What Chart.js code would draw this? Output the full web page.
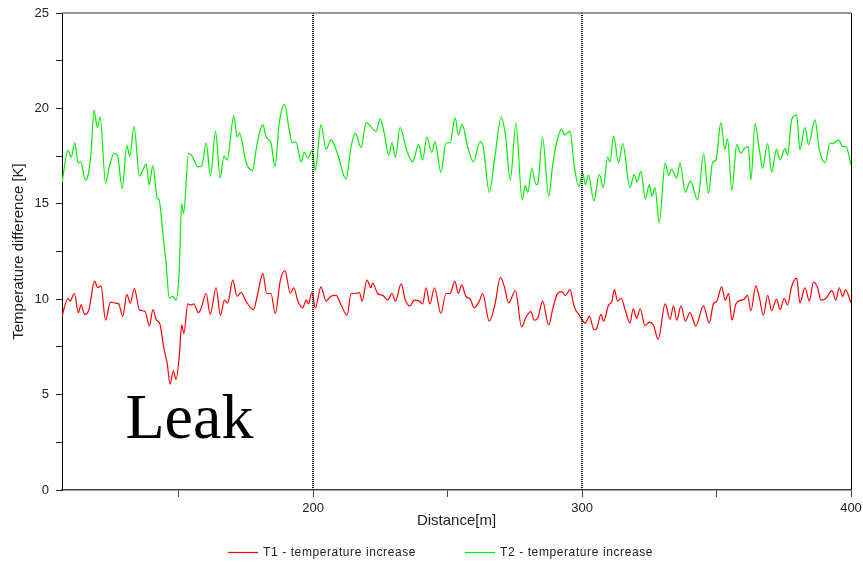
<!DOCTYPE html>
<html>
<head>
<meta charset="utf-8">
<script src="https://cdn.jsdelivr.net/npm/chart.js@4.4.1/dist/chart.umd.min.js"></script>
<style>
  html, body { margin: 0; padding: 0; background: #fff; }
  canvas { display: block; }
</style>
</head>
<body>
<canvas id="tempChart" width="863" height="562"></canvas>
<script>
// axis setup
const xMin = 106.6;
const xMax = 400;
const xTicks = [150, 200, 250, 300, 350, 400];
const xTickLabels = [200, 300, 400];
const yTicks = [0, 2.5, 5, 7.5, 10, 12.5, 15, 17.5, 20, 22.5, 25];
const yTickLabels = [0, 5, 10, 15, 20, 25];
const markerLines = [200, 300];

// annotation
const leakLabel = 'Leak';
const leakX = 154;
const leakY = 2.75;

// T1 - temperature increase (red)
const t1Distance = [106.6, 108.8, 109.6, 111.2, 112.7, 113.7, 115.0, 116.6, 118.7, 119.9, 121.1, 122.8, 124.6, 126.1, 127.7, 129.2, 130.7, 132.0, 133.5, 135.4, 137.5, 139.1, 140.4, 141.6, 143.1, 144.4, 145.7, 146.8, 148.0, 149.0, 150.3, 151.1, 151.9, 153.4, 154.6, 155.6, 157.3, 158.3, 160.2, 161.7, 163.9, 165.5, 167.0, 168.2, 170.1, 171.7, 173.2, 175.0, 177.8, 179.4, 181.3, 182.7, 184.3, 185.9, 187.8, 189.5, 191.5, 192.8, 194.3, 196.1, 197.4, 198.3, 199.5, 200.8, 202.9, 204.8, 206.6, 208.5, 210.4, 212.6, 214.1, 215.7, 217.2, 218.2, 220.0, 221.5, 222.1, 224.0, 225.9, 227.7, 229.3, 230.6, 232.7, 234.3, 236.0, 237.6, 239.5, 240.7, 242.0, 243.4, 245.1, 247.5, 249.4, 250.9, 252.7, 254.0, 255.2, 256.8, 258.4, 259.9, 261.8, 263.0, 265.5, 267.7, 269.6, 271.1, 272.7, 275.2, 277.5, 279.1, 281.0, 282.2, 283.5, 285.3, 287.6, 289.1, 290.9, 292.5, 293.8, 295.5, 297.1, 299.0, 301.2, 302.7, 304.5, 305.4, 307.0, 308.0, 309.9, 311.0, 312.0, 313.2, 314.5, 316.1, 317.8, 319.0, 320.3, 321.6, 323.4, 325.0, 326.5, 328.3, 330.9, 332.7, 334.0, 335.2, 336.8, 338.4, 340.1, 342.3, 345.1, 347.3, 348.8, 350.1, 351.9, 353.2, 354.5, 355.7, 357.2, 359.1, 360.3, 361.5, 362.8, 364.6, 366.1, 367.4, 369.0, 370.5, 372.3, 373.6, 375.2, 376.4, 377.9, 379.8, 381.0, 382.9, 384.5, 386.0, 387.6, 388.8, 390.7, 392.9, 394.4, 395.6, 396.9, 397.9, 400.0];
const t1Values = [9.1, 10.05, 9.9, 10.3, 9.3, 9.7, 9.2, 9.45, 10.95, 10.6, 10.7, 8.9, 9.85, 9.8, 9.75, 9.1, 10.25, 9.8, 10.55, 9.45, 9.35, 8.6, 9.45, 8.95, 8.65, 7.5, 6.65, 5.55, 6.25, 5.8, 7.15, 8.65, 8.2, 9.75, 9.7, 9.75, 9.3, 9.5, 10.3, 9.2, 10.6, 9.15, 9.95, 9.8, 11.0, 10.15, 10.35, 9.9, 9.45, 10.3, 11.35, 10.3, 10.3, 9.25, 11.0, 11.5, 10.3, 10.6, 9.9, 9.55, 9.95, 9.75, 10.35, 9.55, 10.65, 9.9, 10.15, 10.2, 9.7, 9.15, 10.3, 10.3, 10.35, 9.9, 11.0, 10.6, 10.85, 10.3, 10.2, 9.95, 10.3, 9.9, 10.8, 9.95, 9.65, 9.95, 9.9, 9.75, 10.6, 9.75, 10.6, 9.25, 10.3, 10.3, 10.95, 10.3, 10.75, 10.15, 10.0, 9.55, 9.9, 10.3, 8.85, 9.8, 11.15, 10.65, 9.8, 10.45, 8.55, 9.05, 9.35, 8.9, 9.0, 9.9, 8.65, 9.5, 10.3, 10.4, 10.2, 10.5, 9.6, 9.15, 8.75, 9.1, 8.4, 8.45, 9.2, 8.85, 9.7, 9.85, 10.5, 9.9, 10.05, 9.4, 8.75, 9.5, 9.0, 9.5, 8.6, 8.8, 8.65, 7.9, 9.75, 8.95, 9.65, 8.9, 9.65, 8.85, 9.3, 8.6, 9.65, 8.75, 9.75, 9.9, 10.65, 9.95, 10.3, 8.9, 9.75, 9.95, 10.0, 10.2, 9.4, 10.7, 9.95, 9.15, 10.2, 9.4, 10.0, 9.45, 10.05, 9.7, 10.65, 11.1, 9.8, 10.6, 9.9, 10.9, 10.6, 9.95, 10.05, 10.45, 9.95, 10.6, 10.15, 10.5, 9.8];

// T2 - temperature increase (green)
const t2Distance = [106.6, 108.8, 110.0, 111.4, 112.6, 113.5, 115.3, 116.2, 117.4, 118.5, 119.8, 120.8, 122.8, 124.2, 126.0, 127.3, 129.0, 130.7, 131.8, 133.4, 135.4, 136.6, 137.9, 139.0, 140.4, 142.0, 142.6, 144.1, 145.3, 146.5, 147.8, 149.0, 150.2, 151.1, 151.8, 153.7, 155.0, 157.1, 158.6, 160.2, 161.8, 163.7, 165.4, 166.8, 168.0, 170.5, 171.7, 172.6, 175.1, 177.5, 178.8, 180.0, 181.3, 182.5, 184.3, 185.8, 187.4, 189.4, 190.9, 192.2, 193.6, 195.5, 196.7, 198.0, 199.6, 200.8, 202.9, 204.8, 206.7, 209.1, 212.2, 214.1, 215.7, 217.8, 219.7, 223.4, 224.9, 226.5, 228.1, 229.3, 230.6, 232.3, 234.8, 237.0, 239.2, 240.7, 242.3, 244.1, 245.3, 247.5, 249.4, 250.9, 252.8, 254.0, 255.4, 257.5, 259.6, 262.0, 263.0, 265.5, 267.6, 269.9, 271.5, 273.3, 275.4, 277.7, 278.9, 279.8, 281.3, 282.9, 283.5, 285.3, 287.6, 289.0, 290.5, 292.4, 293.5, 295.5, 297.1, 298.8, 300.2, 301.2, 302.4, 304.4, 306.4, 307.9, 309.5, 310.4, 311.7, 313.6, 315.1, 317.8, 319.4, 320.4, 321.9, 323.5, 325.0, 326.0, 327.1, 328.7, 330.9, 332.2, 333.3, 335.2, 336.4, 338.4, 340.2, 343.0, 345.2, 347.0, 348.5, 349.8, 351.6, 353.1, 354.1, 355.7, 357.5, 359.1, 360.3, 361.8, 362.8, 364.3, 365.9, 367.1, 369.0, 370.5, 372.3, 373.6, 375.5, 376.4, 378.0, 379.8, 381.0, 382.9, 384.2, 386.6, 388.2, 390.4, 392.2, 393.2, 395.4, 396.9, 398.1, 400.0];
const t2Values = [16.1, 17.8, 17.45, 18.2, 17.15, 17.2, 16.25, 16.45, 17.65, 19.9, 19.0, 19.55, 16.1, 16.95, 17.65, 17.5, 15.8, 18.05, 17.5, 19.05, 16.45, 16.75, 17.1, 16.0, 17.0, 15.3, 15.25, 13.5, 11.9, 10.05, 10.15, 9.95, 11.5, 15.0, 14.5, 17.65, 17.5, 16.95, 17.0, 18.2, 16.45, 18.8, 16.35, 17.5, 17.3, 19.6, 18.5, 18.7, 17.15, 16.75, 17.85, 18.7, 19.15, 18.5, 18.2, 16.95, 19.25, 20.2, 19.05, 18.2, 18.25, 17.2, 17.7, 17.4, 17.8, 16.75, 19.15, 17.85, 18.35, 17.6, 16.3, 18.0, 18.7, 17.95, 19.25, 18.8, 19.45, 18.65, 17.55, 18.2, 17.45, 19.0, 17.8, 17.2, 18.1, 17.3, 18.5, 17.7, 18.25, 16.65, 18.2, 18.2, 19.5, 18.6, 19.15, 17.95, 17.2, 18.25, 18.15, 15.6, 17.5, 19.55, 18.6, 16.25, 19.2, 15.2, 15.95, 15.6, 16.85, 16.0, 16.05, 18.45, 15.4, 16.95, 18.2, 18.9, 18.6, 18.8, 16.95, 15.9, 16.65, 16.0, 16.5, 15.15, 16.55, 15.85, 17.45, 17.2, 18.55, 17.15, 18.15, 15.85, 16.55, 16.15, 16.7, 15.25, 16.0, 15.4, 15.85, 14.0, 17.15, 16.5, 16.8, 16.35, 17.15, 15.6, 16.2, 15.2, 17.6, 15.55, 17.15, 17.3, 19.25, 17.85, 18.4, 15.7, 18.1, 17.65, 17.9, 18.0, 16.25, 19.2, 17.85, 16.85, 18.15, 16.65, 17.85, 17.3, 17.9, 17.55, 19.45, 19.65, 17.85, 19.0, 18.1, 19.4, 17.85, 17.15, 18.2, 18.15, 18.35, 18.0, 18.0, 17.05];

const seriesLabels = ['T1 - temperature increase', 'T2 - temperature increase'];
const seriesColors = ['#ff0000', '#00ee00'];

const sansFont = '"Liberation Sans", Arial, sans-serif';
Chart.defaults.font.family = sansFont;
Chart.defaults.color = '#222';

function toPoints(xs, ys) {
  return xs.map((x, i) => ({ x: x, y: ys[i] }));
}

// frame, dotted markers, Leak text and legend
const extrasPlugin = {
  id: 'extras',
  afterDatasetsDraw(chart) {
    const { ctx, chartArea, scales } = chart;
    ctx.save();

    // dotted vertical lines
    ctx.strokeStyle = '#111';
    ctx.lineWidth = 2;
    ctx.setLineDash([1, 1]);
    markerLines.forEach(v => {
      const px = Math.round(scales.x.getPixelForValue(v));
      ctx.beginPath();
      ctx.moveTo(px, chartArea.top);
      ctx.lineTo(px, chartArea.bottom);
      ctx.stroke();
    });
    ctx.setLineDash([]);

    // top and right border
    ctx.strokeStyle = '#777';
    ctx.lineWidth = 1.5;
    ctx.beginPath();
    ctx.moveTo(chartArea.left, chartArea.top);
    ctx.lineTo(chartArea.right, chartArea.top);
    ctx.stroke();
    ctx.strokeStyle = '#000';
    ctx.lineWidth = 1;
    ctx.beginPath();
    ctx.moveTo(chartArea.right + 0.5, chartArea.top);
    ctx.lineTo(chartArea.right + 0.5, chartArea.bottom);
    ctx.stroke();

    // Leak label
    ctx.fillStyle = '#000';
    ctx.font = '64px "Liberation Serif", "Times New Roman", serif';
    ctx.textAlign = 'center';
    ctx.textBaseline = 'alphabetic';
    ctx.fillText(leakLabel, scales.x.getPixelForValue(leakX), scales.y.getPixelForValue(leakY));

    // legend
    const legendY = 552.5;
    const legendStarts = [228, 465];
    ctx.font = '12px ' + sansFont;
    ctx.letterSpacing = '0.6px';
    ctx.textAlign = 'left';
    ctx.textBaseline = 'middle';
    chart.data.datasets.forEach((ds, i) => {
      const lx = legendStarts[i];
      ctx.strokeStyle = ds.borderColor;
      ctx.lineWidth = 1.2;
      ctx.beginPath();
      ctx.moveTo(lx, legendY);
      ctx.lineTo(lx + 30, legendY);
      ctx.stroke();
      ctx.fillStyle = '#222';
      ctx.fillText(ds.label, lx + 35, legendY);
    });

    ctx.restore();
  }
};

const ctx = document.getElementById('tempChart').getContext('2d');
new Chart(ctx, {
  type: 'line',
  data: {
    datasets: [
      {
        label: seriesLabels[0],
        data: toPoints(t1Distance, t1Values),
        borderColor: seriesColors[0],
        borderWidth: 1.2,
        pointRadius: 0,
        cubicInterpolationMode: 'monotone',
        fill: false
      },
      {
        label: seriesLabels[1],
        data: toPoints(t2Distance, t2Values),
        borderColor: seriesColors[1],
        borderWidth: 1.2,
        pointRadius: 0,
        cubicInterpolationMode: 'monotone',
        fill: false
      }
    ]
  },
  options: {
    responsive: false,
    animation: false,
    devicePixelRatio: 1,
    layout: { padding: { top: 13, right: 12, bottom: 32, left: 0 } },
    plugins: {
      legend: { display: false },
      tooltip: { enabled: false }
    },
    scales: {
      x: {
        type: 'linear',
        min: xMin,
        max: xMax,
        afterBuildTicks: scale => { scale.ticks = xTicks.map(v => ({ value: v })); },
        afterFit: scale => {
          scale.height = 40;
          scale.paddingLeft = 0;
          scale.paddingRight = 0;
        },
        ticks: {
          autoSkip: false,
          maxRotation: 0,
          padding: 4,
          font: { size: 13 },
          callback: v => xTickLabels.includes(v) ? String(v) : ''
        },
        grid: { drawOnChartArea: false, tickLength: 7, color: '#444' },
        border: { color: '#444', width: 1.5 },
        title: { display: true, text: 'Distance[m]', font: { size: 15 }, padding: { top: 0, bottom: 0 } }
      },
      y: {
        min: 0,
        max: 25,
        afterBuildTicks: scale => { scale.ticks = yTicks.map(v => ({ value: v })); },
        afterFit: scale => {
          scale.width = 62;
          scale.paddingTop = 0;
          scale.paddingBottom = 0;
        },
        ticks: {
          padding: 7,
          font: { size: 13 },
          callback: v => yTickLabels.includes(v) ? String(v) : ''
        },
        grid: { drawOnChartArea: false, tickLength: 6, color: '#222' },
        border: { color: '#000', width: 1 },
        title: { display: true, text: 'Temperature difference [K]', font: { size: 15 }, padding: { top: 10, bottom: 0 } }
      }
    }
  },
  plugins: [extrasPlugin]
});
</script>
</body>
</html>
